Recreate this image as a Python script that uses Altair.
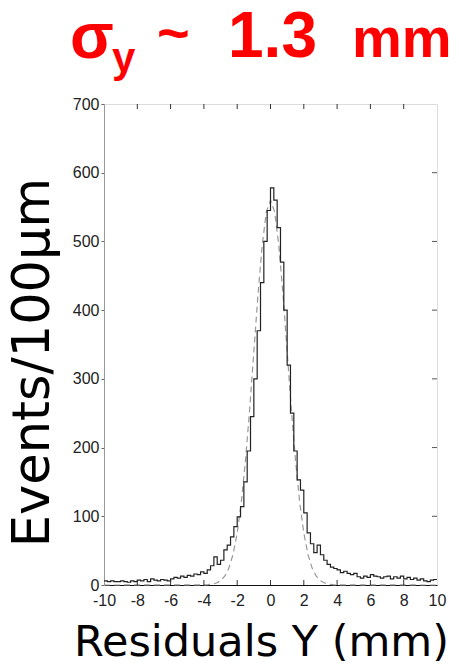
import altair as alt
import pandas as pd

# ---- data ----
bin_left = [round(-10 + 0.2 * i, 1) for i in range(100)]
counts = [
    6, 5, 6, 5, 5, 6, 5, 4, 6, 5,
    7, 6, 8, 5, 9, 7, 6, 8, 7, 6,
    9, 11, 10, 13, 11, 14, 13, 16, 15, 19,
    17, 22, 28, 41, 30, 36, 51, 58, 70, 85,
    99, 114, 150, 195, 245, 300, 370, 440, 500, 545,
    578, 560, 520, 470, 400, 320, 250, 195, 153, 138,
    105, 76, 60, 47, 58, 44, 36, 30, 26, 24,
    22, 18, 20, 17, 15, 17, 12, 10, 13, 11,
    15, 13, 12, 10, 12, 13, 9, 12, 10, 13,
    9, 11, 8, 10, 7, 9, 6, 5, 7, 8,
]
fit_x = [-10, -4.0, -3.75, -3.5, -3.25, -3.0, -2.75, -2.5, -2.25, -2.0, -1.75, -1.5,
         -1.25, -1.0, -0.75, -0.5, -0.25, 0.0, 0.25, 0.5, 0.75, 1.0, 1.25, 1.5,
         1.75, 2.0, 2.25, 2.5, 2.75, 3.0, 3.25, 3.5, 3.75, 4.0, 10]
fit_y = [0, 0.2, 0.5, 1.2, 2.9, 6.2, 12.7, 24.6, 44.5, 75.8, 121, 182,
         256, 340, 423, 494, 543, 560, 543, 494, 423, 340, 256, 182,
         121, 75.8, 44.5, 24.6, 12.7, 6.2, 2.9, 1.2, 0.5, 0.2, 0]
x_ticks = [-10, -8, -6, -4, -2, 0, 2, 4, 6, 8, 10]
y_ticks = [0, 100, 200, 300, 400, 500, 600, 700]

hist_df = pd.DataFrame({"x": bin_left + [10], "y": counts + [counts[-1]]})
fit_df = pd.DataFrame({"x": fit_x, "y": fit_y})
xt_df = pd.DataFrame({"x": x_ticks[1:-1]})
yt_df = pd.DataFrame({"y": y_ticks[1:-1]})

W, H = 333, 481
xs = alt.Scale(domain=[-10, 10], nice=False, zero=False)
ys = alt.Scale(domain=[0, 700], nice=False)

x_axis = alt.Axis(
    values=x_ticks, labelExpr="toString(datum.value)", title="Residuals Y (mm)",
    titleFont="DejaVu Sans", titleFontSize=43, titleFontWeight="normal",
    titleColor="black", titleX=157, titleY=70, titleAlign="center",
    titleBaseline="alphabetic", labelFont="Liberation Sans", labelFontSize=16,
    labelColor="#222", labelPadding=7, labelFlush=False, tickSize=0,
    domainColor="#111", grid=False)
y_axis = alt.Axis(
    values=y_ticks, title="Events/100μm", titleFont="DejaVu Sans",
    titleFontSize=51, titleFontWeight="normal", titleColor="black",
    titleAngle=270, titleX=-56, titleY=258, titleAlign="center",
    titleBaseline="alphabetic", labelFont="Liberation Sans", labelFontSize=16,
    labelColor="#222", labelPadding=2, labelFlush=False, tickSize=3,
    tickColor="#666", domainColor="#999", grid=False)

X = alt.X("x:Q", scale=xs, axis=x_axis)
Y = alt.Y("y:Q", scale=ys, axis=y_axis)

hist = alt.Chart(hist_df).mark_line(
    interpolate="step-after", color="#222", strokeWidth=1.2
).encode(x=X, y=Y)

fit = alt.Chart(fit_df).mark_line(
    color="#999", strokeWidth=1.2, strokeDash=[6, 4]
).encode(x=X, y=Y)

tick_bottom = alt.Chart(xt_df).mark_rule(color="#333").encode(
    x=X, y=alt.value(H), y2=alt.value(H - 5))
tick_top = alt.Chart(xt_df).mark_rule(color="#333").encode(
    x=X, y=alt.value(0), y2=alt.value(5))
tick_right = alt.Chart(yt_df).mark_rule(color="#555").encode(
    y=Y, x=alt.value(W), x2=alt.value(W - 5))

one = pd.DataFrame({"a": [0]})


def red_text(txt, size, x, y):
    return alt.Chart(one).mark_text(
        text=txt, font="Liberation Sans", fontSize=size, fontWeight="bold",
        color="#ff0000", align="left", baseline="alphabetic"
    ).encode(x=alt.value(x), y=alt.value(y))


t_sigma = red_text("σ", 64, -34, -46)
t_sub = red_text("y", 42, 8, -32)
t_tilde = red_text("~", 56, 53, -52)
t_num = red_text("1.3", 64, 124, -47)
t_mm = red_text("mm", 56, 248, -47)

chart = alt.layer(
    fit, hist, tick_bottom, tick_top, tick_right,
    t_sigma, t_sub, t_tilde, t_num, t_mm
).properties(
    width=W, height=H,
    autosize=alt.AutoSizeParams(type="none"),
    padding={"left": 104, "top": 104, "right": 22, "bottom": 85},
).configure_view(stroke="#444", strokeWidth=1).configure(background="white")

chart.save("out.html", embed_options={"renderer": "svg", "actions": False})
